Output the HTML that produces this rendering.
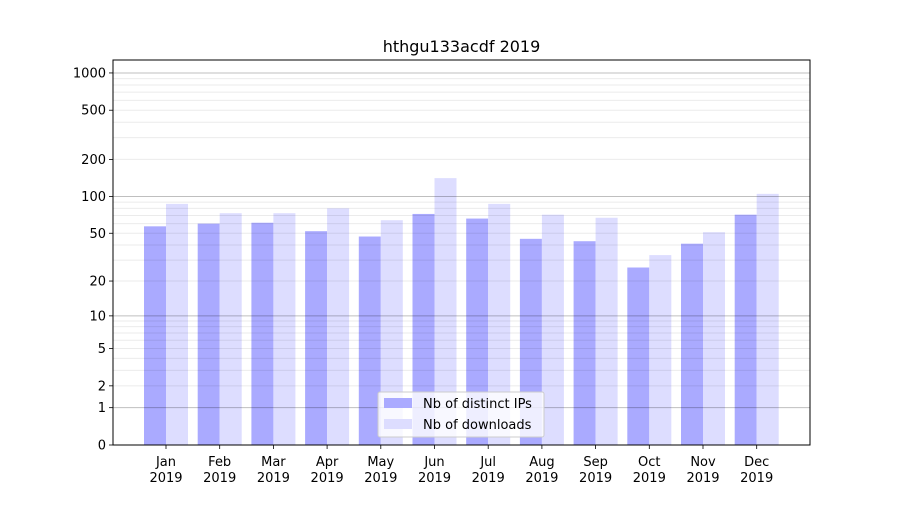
<!DOCTYPE html>
<html><head><meta charset="utf-8"><style>
body{margin:0;background:#fff;font-family:"Liberation Sans","DejaVu Sans",sans-serif;}
svg text{font-family:"DejaVu Sans","Liberation Sans",sans-serif;}
</style></head><body>
<svg id="chart" width="900" height="500" xmlns="http://www.w3.org/2000/svg">
<rect width="900" height="500" fill="#fff"/>
<text x="461.5" y="52" font-size="16" text-anchor="middle">hthgu133acdf 2019</text>
<g id="bars"></g><g id="grid"></g><g id="axes"></g>
<g>
<rect x="378" y="392" width="166" height="45" fill="#fff" fill-opacity="0.8" stroke="#ccc" rx="2"/>
<rect x="384" y="398" width="28" height="10" fill="#aaaaff"/>
<text x="423" y="408" font-size="13">Nb of distinct IPs</text>
<rect x="384" y="419" width="28" height="10" fill="#ddddff"/>
<text x="423" y="429" font-size="13">Nb of downloads</text>
</g>
</svg>
<script>
const months=["Jan","Feb","Mar","Apr","May","Jun","Jul","Aug","Sep","Oct","Nov","Dec"];
const ips=[57,60,61,52,47,72,66,45,43,26,41,71];
const downloads=[87,73,73,80,64,141,87,71,67,33,51,105];
const yTicks=[0,1,2,5,10,20,50,100,200,500,1000];
const NS="http://www.w3.org/2000/svg";
const L=113,R=810,T=60,B=445;
function y(v){return B-124*Math.log10(v+1);}
function xc(i){return 166+i*53.7;}
function mk(tag,attrs,parent){const e=document.createElementNS(NS,tag);for(const k in attrs)e.setAttribute(k,attrs[k]);parent.appendChild(e);return e;}
const grid=document.getElementById('grid'),bars=document.getElementById('bars'),axes=document.getElementById('axes');
[1,10,100,1000].forEach(d=>{for(let m=1;m<10;m++){const v=d*m;if(v>1273)continue;const major=(m===1);
const g=mk('line',{x1:L,x2:R,y1:y(v),y2:y(v),stroke:'#000','stroke-opacity':major?0.25:0.08,'stroke-width':1},grid);

}});
months.forEach((m,i)=>{
const b1=mk('rect',{x:xc(i)-22,y:y(ips[i]),width:22,height:B-y(ips[i]),fill:'#aaaaff'},bars);


const b2=mk('rect',{x:xc(i),y:y(downloads[i]),width:22,height:B-y(downloads[i]),fill:'#ddddff'},bars);


mk('line',{x1:xc(i),x2:xc(i),y1:B,y2:B+4,stroke:'#000','stroke-width':0.8},axes);
const t=mk('text',{x:xc(i),y:B+21,'font-size':13,'text-anchor':'middle'},axes);
t.textContent=m;


const t2=mk('text',{x:xc(i),y:B+37,'font-size':13,'text-anchor':'middle'},axes);
t2.textContent='2019';


});
yTicks.forEach(v=>{
mk('line',{x1:L-4,x2:L,y1:y(v),y2:y(v),stroke:'#000','stroke-width':0.8},axes);
const t=mk('text',{x:L-7,y:y(v)+4.5,'font-size':13,'text-anchor':'end'},axes);
t.textContent=v;


});
const f=mk('rect',{x:L,y:T,width:R-L,height:B-T,fill:'none',stroke:'#000','stroke-width':1},axes);


</script>
</body></html>
